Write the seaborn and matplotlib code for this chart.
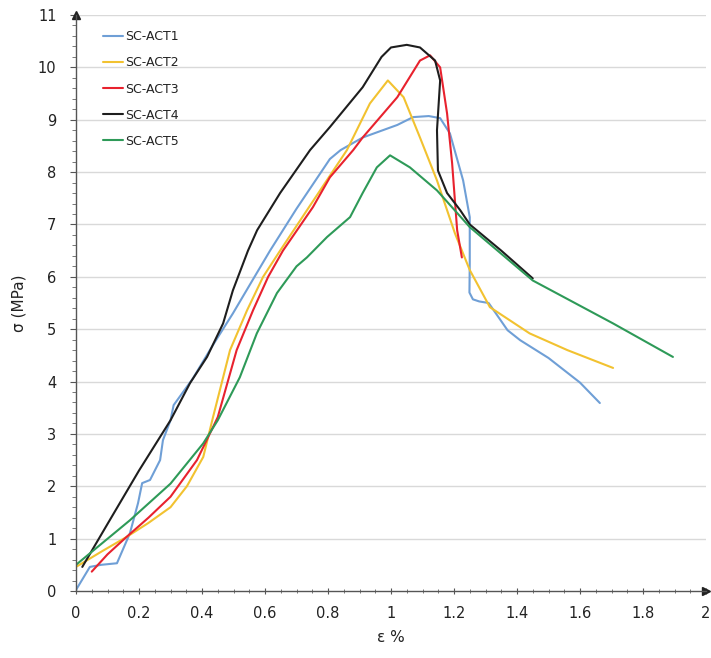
import numpy as np
import pandas as pd
import matplotlib
matplotlib.use("Agg")
import matplotlib.pyplot as plt
import seaborn as sns
from matplotlib.ticker import MultipleLocator

# ---- data ----
act1_x = [0.0, 0.044, 0.08, 0.13, 0.171, 0.197, 0.21, 0.235, 0.267, 0.276, 0.30, 0.31, 0.37, 0.435,
          0.498, 0.552, 0.616, 0.70, 0.806, 0.84, 0.91, 1.02, 1.07, 1.12, 1.156, 1.187, 1.229, 1.25,
          1.25, 1.249, 1.26, 1.28, 1.31, 1.37, 1.41, 1.5, 1.6, 1.663]
act1_y = [0.02, 0.46, 0.5, 0.53, 1.1, 1.68, 2.06, 2.12, 2.5, 2.88, 3.26, 3.55, 4.05, 4.7,
          5.3, 5.85, 6.5, 7.3, 8.25, 8.42, 8.66, 8.9, 9.05, 9.07, 9.03, 8.74, 7.84, 7.14,
          6.26, 5.7, 5.57, 5.53, 5.5, 4.98, 4.79, 4.45, 3.98, 3.59]

act2_x = [0.0, 0.08, 0.16, 0.23, 0.30, 0.352, 0.404, 0.435, 0.489, 0.543, 0.594, 0.648, 0.733,
          0.86, 0.933, 0.99, 1.04, 1.092, 1.146, 1.203, 1.25, 1.314, 1.44, 1.56, 1.705]
act2_y = [0.46, 0.75, 1.03, 1.3, 1.6, 2.0, 2.56, 3.32, 4.6, 5.36, 6.0, 6.5, 7.27,
          8.42, 9.31, 9.75, 9.43, 8.66, 7.84, 6.83, 6.13, 5.42, 4.92, 4.6, 4.26]

act3_x = [0.05, 0.10, 0.16, 0.23, 0.30, 0.384, 0.435, 0.45, 0.51, 0.562, 0.61, 0.657, 0.752,
          0.806, 0.88, 0.91, 1.02, 1.092, 1.124, 1.156, 1.178, 1.194, 1.21, 1.225]
act3_y = [0.37, 0.7, 1.03, 1.4, 1.8, 2.5, 3.13, 3.32, 4.6, 5.36, 6.0, 6.5, 7.33,
          7.9, 8.42, 8.66, 9.43, 10.13, 10.23, 10.0, 9.12, 8.17, 6.89, 6.37]

act4_x = [0.02, 0.10, 0.20, 0.30, 0.362, 0.416, 0.467, 0.498, 0.546, 0.575, 0.648, 0.743, 0.806,
          0.91, 0.97, 1.0, 1.05, 1.092, 1.14, 1.156, 1.146, 1.149, 1.178, 1.22, 1.25, 1.35, 1.45]
act4_y = [0.46, 1.28, 2.3, 3.26, 3.97, 4.47, 5.11, 5.74, 6.5, 6.89, 7.6, 8.42, 8.86,
          9.62, 10.2, 10.38, 10.43, 10.38, 10.13, 9.75, 8.8, 8.03, 7.6, 7.27, 7.0, 6.5, 5.97]

act5_x = [0.0, 0.171, 0.30, 0.404, 0.45, 0.52, 0.574, 0.638, 0.70, 0.733, 0.797, 0.87, 0.91,
          0.955, 0.997, 1.06, 1.146, 1.25, 1.45, 1.705, 1.895]
act5_y = [0.5, 1.35, 2.05, 2.82, 3.26, 4.08, 4.92, 5.69, 6.2, 6.37, 6.76, 7.14, 7.6,
          8.09, 8.32, 8.09, 7.65, 6.95, 5.93, 5.11, 4.47]

series = ["SC-ACT1", "SC-ACT2", "SC-ACT3", "SC-ACT4", "SC-ACT5"]
xs = [act1_x, act2_x, act3_x, act4_x, act5_x]
ys = [act1_y, act2_y, act3_y, act4_y, act5_y]
x_ticks = [0, 0.2, 0.4, 0.6, 0.8, 1, 1.2, 1.4, 1.6, 1.8, 2]
x_tick_labels = ["0", "0.2", "0.4", "0.6", "0.8", "1", "1.2", "1.4", "1.6", "1.8", "2"]
y_ticks = list(range(0, 12))

frames = []
for name, x, y in zip(series, xs, ys):
    frames.append(pd.DataFrame({"strain": x, "stress": y, "series": name,
                                "order": np.arange(len(x))}))
df = pd.concat(frames, ignore_index=True)

palette = {"SC-ACT1": "#6f9fd6", "SC-ACT2": "#f2c230", "SC-ACT3": "#e8222e",
           "SC-ACT4": "#1e1e1e", "SC-ACT5": "#2e9a58"}

sns.set_theme(style="white")
plt.rcParams["font.family"] = ["DejaVu Sans"]

fig = plt.figure(figsize=(7.11, 6.58), dpi=100)
ax = fig.add_axes([76 / 711, 67 / 658, 630 / 711, 576 / 658])

sns.lineplot(data=df, x="strain", y="stress", hue="series", palette=palette,
             sort=False, estimator=None, units="series", linewidth=1.5, ax=ax)
for ln in ax.get_lines():
    ln.set_solid_joinstyle("round")

ax.set_xlim(0, 2)
ax.set_ylim(0, 11)
ax.set_xticks(x_ticks)
ax.set_xticklabels(x_tick_labels)
ax.set_yticks(y_ticks)
ax.xaxis.set_minor_locator(MultipleLocator(0.05))
ax.yaxis.set_minor_locator(MultipleLocator(0.2))

for yv in y_ticks[1:]:
    ax.axhline(yv, color="#d9d9d9", lw=1.0, zorder=0)

for s in ["top", "right"]:
    ax.spines[s].set_visible(False)
for s in ["left", "bottom"]:
    ax.spines[s].set_color("#555555")
    ax.spines[s].set_linewidth(1.0)

ax.tick_params(axis="both", which="major", labelsize=10.5, colors="#555555",
               labelcolor="#222222", length=4, width=0.8)
ax.tick_params(axis="both", which="minor", colors="#777777", length=3, width=0.7)
ax.tick_params(axis="x", which="both", direction="inout", pad=9)
ax.tick_params(axis="y", which="both", direction="out", pad=10, left=True)
ax.tick_params(axis="x", which="both", bottom=True)

ax.plot(1, 0, ">", color="#222222", ms=6, transform=ax.get_yaxis_transform(), clip_on=False)
ax.plot(0, 1, "^", color="#222222", ms=6, transform=ax.get_xaxis_transform(), clip_on=False)

ax.set_xlabel("ε %", fontsize=11, color="#222222", labelpad=6)
ax.set_ylabel("σ (MPa)", fontsize=11, color="#222222", labelpad=8)

leg = ax.legend(loc="upper left", bbox_to_anchor=(0.025, 0.993), frameon=False,
                fontsize=9, handlelength=1.6, handletextpad=0.15, labelspacing=1.05)
for t in leg.get_texts():
    t.set_color("#222222")

fig.savefig("out.png", dpi=100, facecolor="white")
